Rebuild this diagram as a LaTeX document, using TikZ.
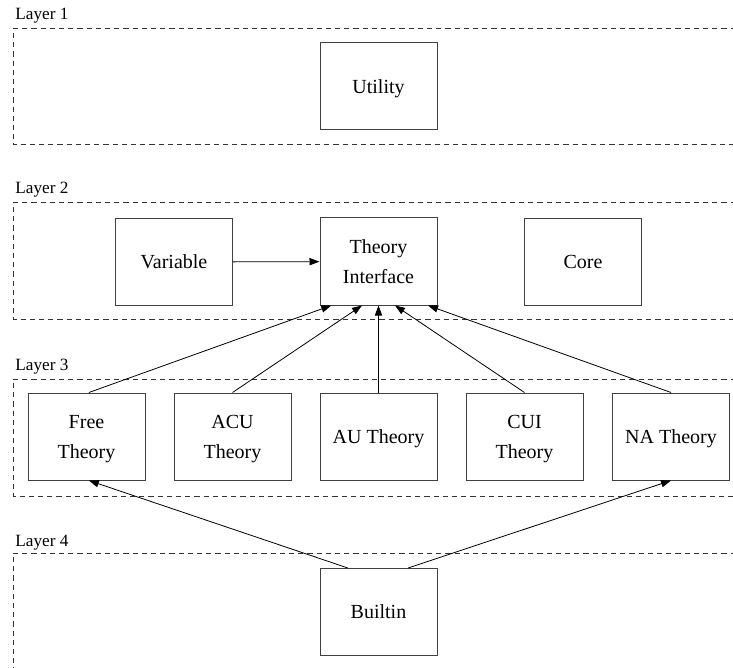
\documentclass[tikz,border=0pt]{standalone}
\usepackage{fontspec}
\setmainfont{Liberation Serif}
\usepackage{tikz}
\usetikzlibrary{calc,arrows.meta}

\begin{document}
\begin{tikzpicture}[x=0.5pt,y=-0.5pt,
    module/.style={draw=black!75, line width=0.5pt, minimum width=58.5pt, minimum height=43.5pt, inner sep=0pt, text depth=0pt, align=center, font=\fontsize{10}{15}\selectfont},
    layerbox/.style={draw=black!80, line width=0.5pt, dash pattern=on 2.6pt off 2pt},
    layername/.style={anchor=base west, inner sep=0pt, font=\fontsize{8.6}{10}\selectfont},
    dep/.style={line width=0.4pt, -{Triangle[length=5pt,width=3.6pt]}}]
            \useasboundingbox (0,0) rectangle (733,668);
            % Layers
            \draw[layerbox] (745,29) -- (13,29) -- (13,145) -- (745,145);
            \draw[layerbox] (745,203) -- (13,203) -- (13,319) -- (745,319);
            \draw[layerbox] (745,379) -- (13,379) -- (13,496) -- (745,496);
            \draw[layerbox] (745,553) -- (13,553) -- (13,680);
            \node[layername] (l1) at (15,20) {Layer 1};
            \node[layername] (l2) at (15,194) {Layer 2};
            \node[layername] (l3) at (15,370) {Layer 3};
            \node[layername] (l4) at (15,546) {Layer 4};

            % Modules
            \node[module] (utility) at (378.5,86.5) {Utility};
            \node[module] (variable) at (174,262) {Variable};
            \node[module] (ti) at (378.5,261.5) {Theory\\Interface};
            \node[module] (core) at (583,262) {Core};
            \node[module] (free) at (86.5,436.5) {Free\\Theory};
            \node[module] (acu) at (232.5,436.5) {ACU\\Theory};
            \node[module] (au) at (378.5,436.5) {AU Theory};
            \node[module] (cui) at (524.5,436.5) {CUI\\Theory};
            \node[module] (na) at (671,436.5) {NA Theory};
            \node[module] (builtin) at (378.5,612) {Builtin};

            % Dependencies
            \draw[dep] (variable) -- (ti);
            \draw[dep] ($(free.north west)!0.52!(free.north east)$) -- ($(ti.south west)!0.1!(ti.south east)$);
            \draw[dep] (acu.north) -- ($(ti.south west)!0.36!(ti.south east)$);
            \draw[dep] (au.north) -- (ti.south);
            \draw[dep] (cui.north) -- ($(ti.south west)!0.64!(ti.south east)$);
            \draw[dep] (na.north) -- ($(ti.south west)!0.92!(ti.south east)$);
            \draw[dep] ($(builtin.north west)!0.24!(builtin.north east)$) -- ($(free.south west)!0.52!(free.south east)$);
            \draw[dep] ($(builtin.north west)!0.75!(builtin.north east)$) -- (na.south);

        \end{tikzpicture}
\end{document}
